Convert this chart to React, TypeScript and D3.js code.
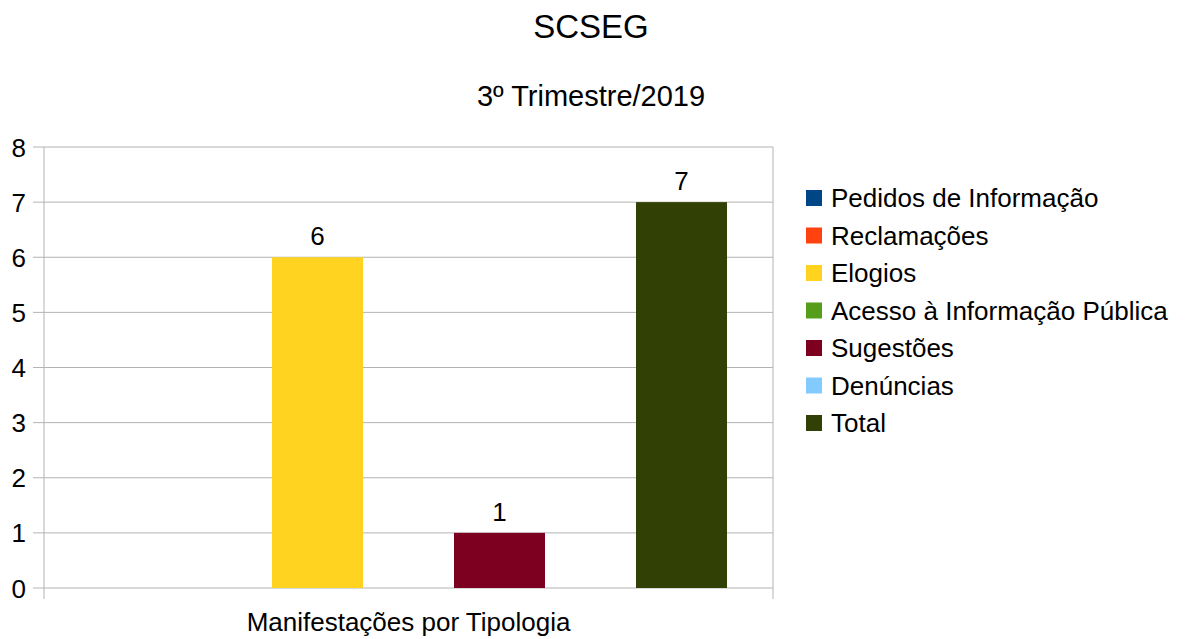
import React from "react";
import * as d3 from "d3";

const seriesNames = [
  "Pedidos de Informação",
  "Reclamações",
  "Elogios",
  "Acesso à Informação Pública",
  "Sugestões",
  "Denúncias",
  "Total",
];
const seriesValues = [0, 0, 6, 0, 1, 0, 7];
const seriesColors = ["#004586", "#ff420e", "#ffd320", "#579d1c", "#7e0021", "#83caff", "#314004"];
const category = "Manifestações por Tipologia";
const yTicks = [0, 1, 2, 3, 4, 5, 6, 7, 8];
const title = "SCSEG";
const subtitle = "3º Trimestre/2019";

const W = 1186;
const H = 639;
const plot = { left: 44, right: 773, top: 147, bottom: 588 };
const font = "'Liberation Sans', Arial, sans-serif";
const grid = "#b3b3b3";

export default function App() {
  const y = d3.scaleLinear().domain([0, 8]).range([plot.bottom, plot.top]);
  const outer = d3.scaleBand().domain([category]).range([plot.left, plot.right]).paddingInner(0).paddingOuter(46 / 637);
  const inner = d3.scaleBand().domain(seriesNames).range([0, outer.bandwidth()]);
  const gx = outer(category) as number;

  return (
    <svg width={W} height={H} style={{ position: "absolute", left: 0, top: 0, background: "#fff" }} fontFamily={font}>
      <text x={591} y={38} textAnchor="middle" fontSize={33}>{title}</text>
      <text x={591} y={106} textAnchor="middle" fontSize={29}>{subtitle}</text>

      {yTicks.map((t) => (
        <g key={t}>
          <line x1={plot.left - 11} x2={plot.right} y1={y(t)} y2={y(t)} stroke={grid} strokeWidth={1} />
          <text x={26} y={y(t) + 9.5} textAnchor="end" fontSize={26}>{t}</text>
        </g>
      ))}
      <line x1={plot.left} x2={plot.left} y1={plot.top} y2={plot.bottom + 11} stroke={grid} />
      <line x1={plot.right} x2={plot.right} y1={plot.top} y2={plot.bottom + 11} stroke={grid} />

      {seriesNames.map((s, i) => {
        const v = seriesValues[i];
        if (v === 0) return null;
        const x0 = gx + (inner(s) as number);
        const bw = inner.bandwidth();
        return (
          <g key={s}>
            <rect x={x0} y={y(v)} width={bw} height={y(0) - y(v)} fill={seriesColors[i]} />
            <text x={x0 + bw / 2} y={y(v) - 12} textAnchor="middle" fontSize={26}>{v}</text>
          </g>
        );
      })}

      <text x={(plot.left + plot.right) / 2} y={631} textAnchor="middle" fontSize={26}>{category}</text>

      {seriesNames.map((s, i) => {
        const cy = 198 + i * 37.5;
        return (
          <g key={s}>
            <rect x={806} y={cy - 8} width={16} height={16} fill={seriesColors[i]} />
            <text x={831} y={cy + 9} fontSize={26}>{s}</text>
          </g>
        );
      })}
    </svg>
  );
}
